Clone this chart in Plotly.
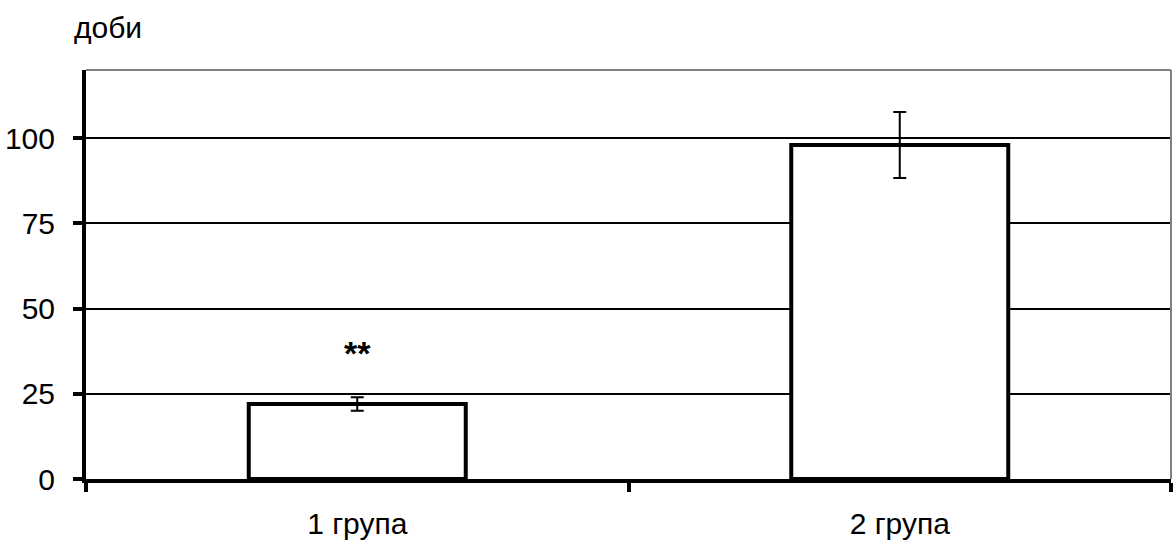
import plotly.graph_objects as go

categories = ["1 група", "2 група"]
values = [22, 98]
errors = [2, 9.7]
marks = ["**", ""]
y_ticks = [0, 25, 50, 75, 100]
y_title = "доби"

FONT = "Liberation Sans, Arial, sans-serif"

fig = go.Figure()
fig.add_trace(go.Bar(
    x=categories, y=values,
    width=0.4,
    marker=dict(color="white", line=dict(color="black", width=4)),
    error_y=dict(type="data", array=errors, visible=True, color="black", thickness=2, width=6.5),
    showlegend=False,
))

for c, v, e, m in zip(categories, values, errors, marks):
    if m:
        fig.add_annotation(x=c, y=v + e + 13, text="<b>%s</b>" % m, showarrow=False,
                           font=dict(family=FONT, size=34, color="black"),
                           xref="x", yref="y", yanchor="middle")

fig.add_annotation(x=-0.0125, y=1.103, xref="paper", yref="paper", text=y_title,
                   showarrow=False, xanchor="left", yanchor="middle",
                   font=dict(family=FONT, size=30, color="black"))

# gray top and right frame
fig.add_shape(type="line", xref="paper", yref="paper", x0=0, x1=1, y0=1, y1=1,
              line=dict(color="#808080", width=2))
fig.add_shape(type="line", xref="paper", yref="paper", x0=1, x1=1, y0=0, y1=1,
              line=dict(color="#808080", width=2))

fig.update_layout(
    width=1173, height=546,
    margin=dict(l=86, r=2, t=70, b=67),
    plot_bgcolor="white", paper_bgcolor="white",
    font=dict(family=FONT, size=30, color="black"),
    bargap=0.6,
)
fig.update_xaxes(
    type="category", range=[-0.5, 1.5],
    showline=True, linecolor="black", linewidth=4,
    ticks="outside", tickson="boundaries", ticklen=9, tickwidth=3.5, tickcolor="black",
    showgrid=False, ticklabelstandoff=15,
    tickfont=dict(family=FONT, size=30, color="black"),
)
fig.update_yaxes(
    range=[0, 120], tickvals=y_ticks,
    showline=True, linecolor="black", linewidth=4,
    ticks="outside", ticklen=9, tickwidth=3.5, tickcolor="black",
    showgrid=True, gridcolor="black", gridwidth=1.7,
    zeroline=False, ticklabelstandoff=12,
    tickfont=dict(family=FONT, size=30, color="black"),
)

fig.write_html(
    "out.html",
    config={"displayModeBar": False},
    post_script="document.body.style.margin='0';document.body.style.overflow='hidden';",
)
